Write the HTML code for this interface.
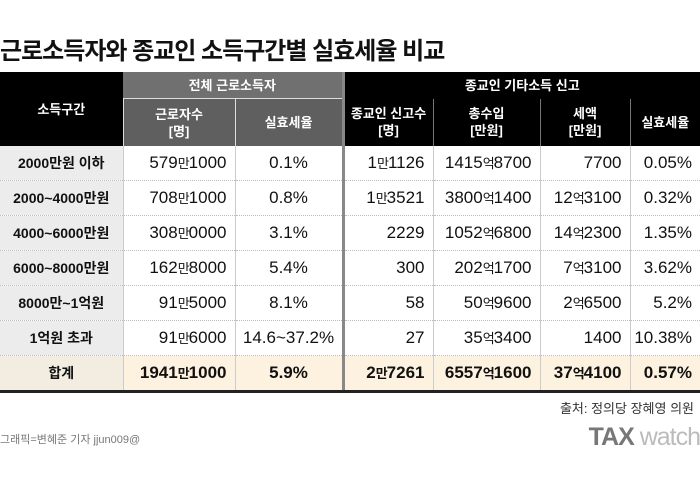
<!DOCTYPE html>
<html><head><meta charset="utf-8">
<style>
body{margin:0;width:700px;height:487px;background:#fff;font-family:"Liberation Sans","Noto Sans CJK KR",sans-serif;position:relative;overflow:hidden}
.title{position:absolute;left:0;top:31px;font-size:24px;font-weight:bold;color:#111;letter-spacing:-1px;white-space:nowrap}
table{position:absolute;left:0;top:72px;border-collapse:collapse;table-layout:fixed;width:700px}
td,th{padding:0;font-weight:normal;overflow:hidden;white-space:nowrap}
th{color:#fff;font-size:13px;font-weight:bold;text-align:center;line-height:17px}
.g1{background:#707070;height:26px;border-bottom:1px solid #ddd}
.g2{background:#000;height:26px}
.s1{background:#5f5f5f;height:47px;border-left:1px solid #ddd}
.s2{background:#000;height:47px;border-left:1px solid #777}
.h0{background:#000}
td{height:34px;line-height:20px;font-size:17px;color:#111;text-align:right;padding-right:8px;border-bottom:1px dotted #bbb;border-left:1px solid #ccc}
td span{font-size:13px;line-height:13px;vertical-align:baseline;letter-spacing:-1px}
td.c0{background:#ececec;text-align:center;font-size:14px;font-weight:bold;padding:0;border-left:none}
td.ctr{text-align:center;padding:0}
.div{border-left:3px solid #888 !important}
tr.tot td{background:#fdf2df;font-weight:bold;border-bottom:3px solid #222}
tr.tot td.c0{background:#f3ece0}
.src{position:absolute;right:6px;top:398px;font-size:13px;color:#333}
.credit{position:absolute;left:0;top:431px;font-size:11px;color:#777}
.logo{position:absolute;right:0;top:423px;font-size:25px;font-weight:bold;color:#777;letter-spacing:-1px}
.logo span{font-weight:normal;color:#bbb}
</style></head><body>
<div class="title">근로소득자와 종교인 소득구간별 실효세율 비교</div>
<table>
<colgroup><col style="width:123px"><col style="width:112px"><col style="width:108px"><col style="width:90px"><col style="width:107px"><col style="width:90px"><col style="width:70px"></colgroup>
<tr><th rowspan="2" class="h0">소득구간</th>
<th colspan="2" class="g1">전체 근로소득자</th>
<th colspan="4" class="g2 div">종교인 기타소득 신고</th></tr>
<tr><th class="s1">근로자수<br>[명]</th>
<th class="s1">실효세율</th>
<th class="s2 div">종교인 신고수<br>[명]</th>
<th class="s2">총수입<br>[만원]</th>
<th class="s2">세액<br>[만원]</th>
<th class="s2">실효세율</th></tr>
<tr><td class="c0">2000만원 이하</td><td>579<span>만</span>1000</td><td class="ctr">0.1%</td><td class="div">1<span>만</span>1126</td><td>1415<span>억</span>8700</td><td>7700</td><td>0.05%</td></tr>
<tr><td class="c0">2000~4000만원</td><td>708<span>만</span>1000</td><td class="ctr">0.8%</td><td class="div">1<span>만</span>3521</td><td>3800<span>억</span>1400</td><td>12<span>억</span>3100</td><td>0.32%</td></tr>
<tr><td class="c0">4000~6000만원</td><td>308<span>만</span>0000</td><td class="ctr">3.1%</td><td class="div">2229</td><td>1052<span>억</span>6800</td><td>14<span>억</span>2300</td><td>1.35%</td></tr>
<tr><td class="c0">6000~8000만원</td><td>162<span>만</span>8000</td><td class="ctr">5.4%</td><td class="div">300</td><td>202<span>억</span>1700</td><td>7<span>억</span>3100</td><td>3.62%</td></tr>
<tr><td class="c0">8000만~1억원</td><td>91<span>만</span>5000</td><td class="ctr">8.1%</td><td class="div">58</td><td>50<span>억</span>9600</td><td>2<span>억</span>6500</td><td>5.2%</td></tr>
<tr><td class="c0">1억원 초과</td><td>91<span>만</span>6000</td><td class="ctr">14.6~37.2%</td><td class="div">27</td><td>35<span>억</span>3400</td><td>1400</td><td>10.38%</td></tr>
<tr class="tot"><td class="c0">합계</td><td>1941<span>만</span>1000</td><td class="ctr">5.9%</td><td class="div">2<span>만</span>7261</td><td>6557<span>억</span>1600</td><td>37<span>억</span>4100</td><td>0.57%</td></tr>
</table>
<div class="src">출처: 정의당 장혜영 의원</div>
<div class="credit">그래픽=변혜준 기자 jjun009@</div>
<div class="logo">TAX <span>watch</span></div>
</body></html>
